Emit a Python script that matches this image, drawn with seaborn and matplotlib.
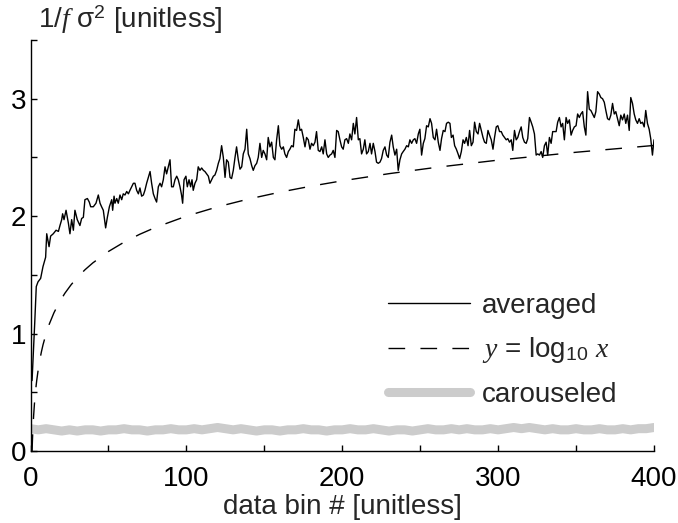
import numpy as np
import matplotlib
matplotlib.use("Agg")
import matplotlib.pyplot as plt
import seaborn as sns

# ---- data ----
# averaged curve, early part (bins 1..121)
avg_bins_a = [1, 2.7, 3.7, 4.8, 6.5, 8.0, 9.7, 10.4, 11.9, 12.9, 14.6, 16.4, 17.9, 18.9, 20.0,
              20.6, 21.5, 22.8, 24.3, 25.3, 26.4, 27.5, 28.5, 30.0, 31.7, 32.8, 33.9, 34.9,
              36.5, 37.7, 38.6, 40.3, 42.0, 43.5, 44.6, 45.6, 46.7, 48.2, 49.3, 50.6, 52.1,
              52.7, 53.6, 54.2, 55.3, 56.3, 57.4, 58.5, 59.5, 60.6, 61.7, 62.8, 63.8, 64.9,
              66.0, 67.0, 68.1, 69.2, 70.2, 71.3, 72.4, 73.4, 74.5, 75.6, 76.7, 77.7, 78.8,
              79.9, 80.9, 82.0, 83.1, 84.1, 85.2, 86.3, 87.3, 88.4, 89.5, 90.5, 91.6, 92.7,
              93.8, 94.8, 95.9, 96.9, 97.6, 98.5, 99.7, 100.6, 101.7, 102.7, 103.6, 104.4,
              105.5, 106.6, 107.6, 108.7, 109.8, 110.9, 111.9, 113.0, 114.1, 115.1, 116.2,
              117.3, 118.3, 119.4, 120.5, 121.5]
avg_vals_a = [0.60, 1.09, 1.40, 1.44, 1.47, 1.57, 1.65, 1.85, 1.74, 1.83, 1.85, 1.88, 1.87, 1.92, 1.97,
              2.02, 1.97, 2.05, 1.94, 1.85, 1.97, 1.88, 2.05, 1.97, 1.92, 1.98, 1.99, 2.14,
              2.15, 2.12, 2.08, 2.08, 2.11, 2.18, 2.11, 2.08, 2.05, 1.90, 1.99, 2.08, 2.14,
              2.05, 2.17, 2.11, 2.15, 2.11, 2.18, 2.14, 2.19, 2.18, 2.21, 2.19, 2.22, 2.25,
              2.28, 2.28, 2.22, 2.19, 2.24, 2.17, 2.18, 2.22, 2.28, 2.33, 2.38, 2.28, 2.19,
              2.15, 2.12, 2.25, 2.28, 2.25, 2.31, 2.42, 2.36, 2.42, 2.48, 2.25, 2.25, 2.31,
              2.34, 2.31, 2.25, 2.18, 2.11, 2.31, 2.34, 2.25, 2.31, 2.25, 2.31, 2.22,
              2.28, 2.31, 2.42, 2.39, 2.41, 2.39, 2.38, 2.36, 2.34, 2.28, 2.31,
              2.34, 2.35, 2.39, 2.45, 2.49]

# averaged curve, middle part (bins 122..269)
avg_bins_b = [122.6, 123.7, 124.8, 125.8, 126.9, 128.0, 129.0, 130.1, 131.2, 132.2,
              133.3, 134.4, 135.5, 136.5, 137.6, 138.7, 139.7, 140.8, 141.9, 142.9,
              144.0, 145.1, 146.1, 147.2, 148.3, 149.3, 150.4, 151.5, 152.5, 153.6,
              154.7, 155.8, 156.8, 157.9, 159.0, 160.0, 161.1, 162.2, 163.2, 164.3,
              165.4, 166.4, 167.5, 168.6, 169.6, 170.7, 171.8, 172.9, 173.9, 175.0,
              176.1, 177.1, 178.2, 179.3, 180.3, 181.4, 182.5, 183.5, 184.6, 185.7,
              186.8, 187.8, 188.9, 190.0, 191.0, 192.1, 193.2, 194.2, 195.3, 196.4,
              197.4, 198.5, 199.6, 200.6, 201.7, 202.8, 203.9, 204.9, 206.0, 207.1,
              208.1, 209.2, 210.3, 211.3, 212.4, 213.5, 214.5, 215.6, 216.7, 217.8,
              218.8, 219.9, 221.0, 222.0, 223.1, 224.2, 225.2, 226.3, 227.4, 228.5,
              229.5, 230.6, 231.7, 232.7, 233.8, 234.9, 235.9, 237.0, 238.1, 239.1,
              240.2, 241.3, 242.4, 243.4, 244.5, 245.6, 246.6, 247.7, 248.8, 249.8,
              250.9, 252.0, 253.0, 254.1, 255.2, 256.3, 257.3, 258.4, 259.5, 260.5,
              261.6, 262.7, 263.7, 264.8, 265.9, 266.9, 268.0, 269.1]
avg_vals_b = [2.60, 2.50, 2.33, 2.48, 2.46, 2.33, 2.32, 2.39, 2.50, 2.59,
              2.48, 2.40, 2.42, 2.53, 2.57, 2.74, 2.53, 2.49, 2.43, 2.39,
              2.43, 2.45, 2.50, 2.62, 2.50, 2.56, 2.53, 2.48, 2.67, 2.59,
              2.63, 2.50, 2.48, 2.65, 2.77, 2.60, 2.57, 2.59, 2.53, 2.50,
              2.55, 2.57, 2.60, 2.59, 2.74, 2.73, 2.82, 2.73, 2.74, 2.67,
              2.59, 2.67, 2.65, 2.57, 2.62, 2.60, 2.63, 2.72, 2.56, 2.55,
              2.59, 2.53, 2.65, 2.53, 2.50, 2.52, 2.53, 2.56, 2.50, 2.73,
              2.72, 2.65, 2.59, 2.57, 2.65, 2.66, 2.62, 2.70, 2.65, 2.79,
              2.70, 2.84, 2.65, 2.66, 2.53, 2.57, 2.65, 2.53, 2.55, 2.62,
              2.53, 2.62, 2.55, 2.46, 2.45, 2.46, 2.49, 2.56, 2.59, 2.52,
              2.50, 2.63, 2.69, 2.59, 2.52, 2.57, 2.39, 2.48, 2.53, 2.55,
              2.57, 2.60, 2.59, 2.65, 2.62, 2.65, 2.66, 2.62, 2.70, 2.74,
              2.52, 2.62, 2.66, 2.77, 2.76, 2.83, 2.79, 2.67, 2.65, 2.74,
              2.63, 2.56, 2.66, 2.73, 2.72, 2.79, 2.80, 2.79]

# averaged curve, last part (bins 270..400)
avg_bins_c = [270.0, 271.1, 272.1, 273.2, 274.3, 275.3, 276.4, 277.5, 278.5, 279.6,
              280.7, 281.7, 282.8, 283.9, 284.9, 286.0, 287.1, 288.1, 289.2, 290.3,
              291.3, 292.4, 293.5, 294.5, 295.6, 296.7, 297.7, 298.8, 299.8, 300.9,
              302.0, 303.0, 304.1, 305.2, 306.2, 307.3, 308.4, 309.4, 310.5, 311.6,
              312.6, 313.7, 314.8, 315.8, 316.9, 318.0, 319.0, 320.1, 321.2, 322.2,
              323.3, 324.4, 325.4, 326.5, 327.6, 328.6, 329.7, 330.8, 331.8, 332.9,
              334.0, 335.0, 336.1, 337.2, 338.2, 339.3, 340.4, 341.4, 342.5, 343.6,
              344.6, 345.7, 346.8, 347.8, 348.9, 350.0, 351.0, 352.1, 353.1, 354.2,
              355.3, 356.3, 357.4, 358.5, 359.5, 360.6, 361.7, 362.7, 363.8, 364.9,
              365.9, 367.0, 368.1, 369.1, 370.2, 371.3, 372.3, 373.4, 374.5, 375.5,
              376.6, 377.7, 378.7, 379.8, 380.9, 381.9, 383.0, 384.1, 385.1, 386.2,
              387.3, 388.3, 389.4, 390.5, 391.5, 392.6, 393.7, 394.7, 395.8, 396.9,
              397.9, 399.0, 400.0]
avg_vals_c = [2.67, 2.69, 2.60, 2.57, 2.53, 2.49, 2.55, 2.65, 2.62, 2.67,
              2.60, 2.73, 2.60, 2.63, 2.80, 2.72, 2.70, 2.79, 2.73, 2.67,
              2.63, 2.62, 2.73, 2.69, 2.65, 2.57, 2.67, 2.76, 2.77, 2.72,
              2.72, 2.69, 2.67, 2.65, 2.66, 2.63, 2.65, 2.56, 2.73, 2.65,
              2.67, 2.72, 2.76, 2.67, 2.63, 2.62, 2.66, 2.84, 2.80, 2.76,
              2.70, 2.52, 2.53, 2.52, 2.55, 2.50, 2.60, 2.63, 2.52, 2.67,
              2.62, 2.72, 2.72, 2.72, 2.80, 2.84, 2.76, 2.79, 2.65, 2.84,
              2.79, 2.82, 2.69, 2.73, 2.76, 2.77, 2.87, 2.84, 2.87, 2.89,
              2.76, 2.69, 3.06, 2.91, 2.90, 2.87, 2.84, 2.89, 3.06, 3.04,
              3.01, 3.00, 2.97, 2.90, 2.83, 2.82, 2.86, 2.96, 2.87, 2.89,
              2.83, 2.77, 2.86, 2.82, 2.87, 2.79, 2.86, 2.73, 3.01, 2.96,
              2.87, 2.82, 2.79, 2.83, 2.79, 2.80, 2.76, 2.90, 2.79, 2.74,
              2.66, 2.52, 2.65]

# reference curve y = log10 x, sampled at these bins
log_bins = [1, 1.25, 1.5, 1.75, 2, 2.5, 3, 3.5, 4, 5, 6, 7, 8, 10, 12, 15, 18, 22, 26, 30,
            35, 40, 50, 60, 70, 80, 100, 120, 140, 160, 180, 200, 230, 260, 300, 350, 400]

# carouseled curve
car_bins = [0, 5, 10, 15, 20, 25, 30, 35, 40, 45, 50, 55, 60, 65, 70, 75, 80, 85, 90, 95,
            100, 105, 110, 115, 120, 125, 130, 135, 140, 145, 150, 155, 160, 165, 170, 175,
            180, 185, 190, 195, 200, 205, 210, 215, 220, 225, 230, 235, 240, 245, 250, 255,
            260, 265, 270, 275, 280, 285, 290, 295, 300, 305, 310, 315, 320, 325, 330, 335,
            340, 345, 350, 355, 360, 365, 370, 375, 380, 385, 390, 395, 400]
car_vals = [0.19, 0.18, 0.19, 0.18, 0.17, 0.18, 0.17, 0.18, 0.18, 0.17,
            0.18, 0.18, 0.19, 0.18, 0.18, 0.17, 0.18, 0.18, 0.19, 0.18,
            0.18, 0.19, 0.18, 0.19, 0.20, 0.19, 0.18, 0.19, 0.18, 0.17,
            0.18, 0.18, 0.17, 0.18, 0.18, 0.19, 0.18, 0.18, 0.17, 0.18,
            0.18, 0.19, 0.18, 0.18, 0.19, 0.18, 0.17, 0.18, 0.18, 0.17,
            0.18, 0.19, 0.18, 0.18, 0.19, 0.18, 0.19, 0.18, 0.18, 0.19,
            0.18, 0.19, 0.20, 0.19, 0.20, 0.19, 0.18, 0.19, 0.18, 0.18,
            0.19, 0.18, 0.18, 0.19, 0.18, 0.18, 0.19, 0.18, 0.19, 0.19,
            0.20]

avg_bins = avg_bins_a + avg_bins_b + avg_bins_c
avg_vals = avg_vals_a + avg_vals_b + avg_vals_c

# ---- style ----
sns.set_style("ticks")
plt.rcParams['font.family'] = ['Liberation Sans', 'DejaVu Sans']
plt.rcParams['mathtext.fontset'] = 'custom'
plt.rcParams['mathtext.rm'] = 'Liberation Sans'
plt.rcParams['mathtext.it'] = 'Liberation Serif:italic'
FS = 20

fig = plt.figure(figsize=(6.78, 5.23), dpi=100)
ax = fig.add_axes([0.045, 0.1377, 0.9196, 0.7858])

sns.lineplot(x=avg_bins, y=avg_vals, ax=ax, color='black', lw=1.0,
             label='averaged', sort=False)
sns.lineplot(x=log_bins, y=np.log10(log_bins), ax=ax, color='black', lw=1.0,
             linestyle=(0, (12, 11)), label=r'$y$ = log$_{10}$ $x$')
sns.lineplot(x=car_bins, y=car_vals, ax=ax, color='#cccccc', lw=6.5,
             label='carouseled')

ax.set_xlim(0, 400)
ax.set_ylim(0, 3.5)
ax.set_xticks([0, 100, 200, 300, 400])
ax.set_xticks([50, 150, 250, 350], minor=True)
ax.set_yticks([0, 1, 2, 3])
ax.set_yticks([0.5, 1.5, 2.5, 3.5], minor=True)
ax.tick_params(which='both', direction='in', length=4, width=1, colors='black',
               labelsize=FS)
ax.tick_params(axis='x', pad=11)
ax.tick_params(axis='y', pad=3)
for side in ['top', 'right']:
    ax.spines[side].set_visible(False)
for side in ['left', 'bottom']:
    ax.spines[side].set_color('black')
    ax.spines[side].set_linewidth(1.0)

ax.set_xlabel('data bin # [unitless]', fontsize=FS, labelpad=1)
ax.set_ylabel('')
ax.text(0.012, 1.01, r'1/$f$ σ$^2$ [unitless]', transform=ax.transAxes,
        fontsize=FS, ha='left', va='bottom')

leg = ax.legend(loc='upper left', bbox_to_anchor=(0.573, 0.385), frameon=False,
                fontsize=FS, handlelength=2.95, handletextpad=0.45,
                labelspacing=0.6, borderpad=0, borderaxespad=0)

fig.savefig('out.png', dpi=100)
